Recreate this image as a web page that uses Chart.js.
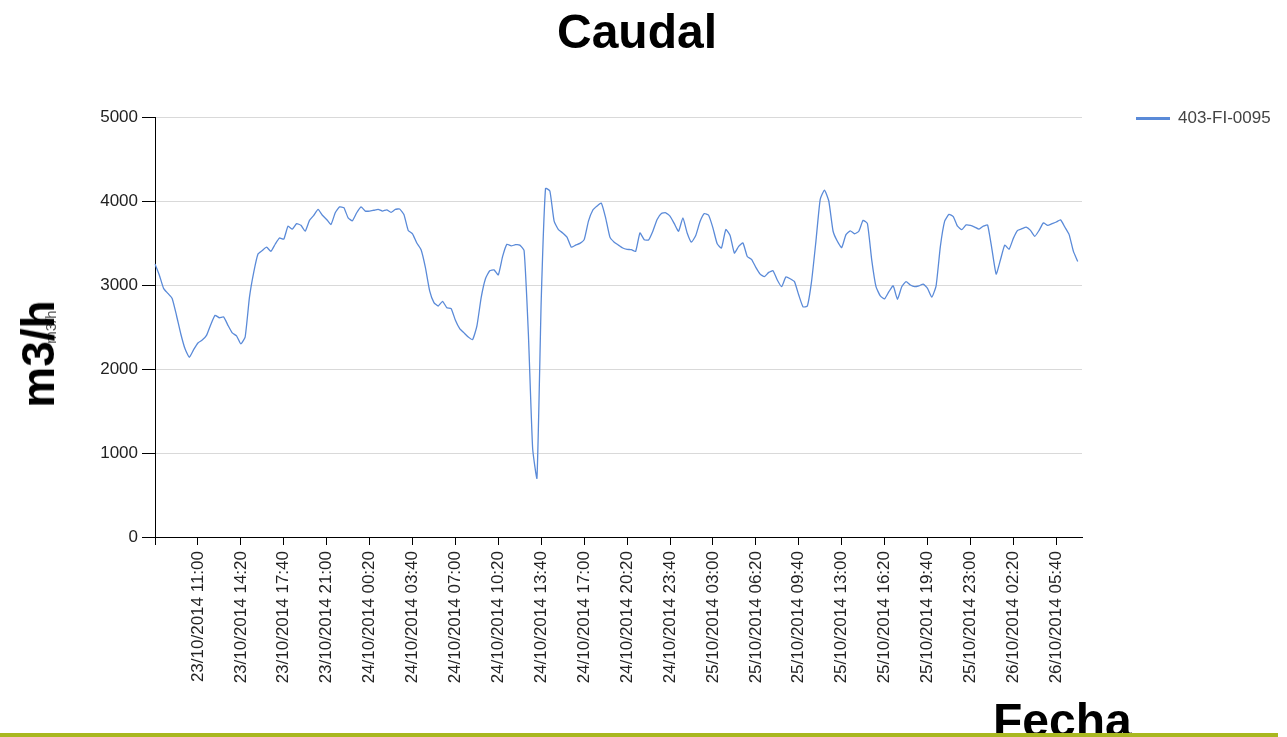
<!DOCTYPE html>
<html>
<head>
<meta charset="utf-8">
<title>Caudal</title>
<script src="https://cdn.jsdelivr.net/npm/chart.js@4.4.1/dist/chart.umd.min.js"></script>
<style>
  html, body { margin: 0; padding: 0; background: #fff; }
  body { width: 1287px; height: 737px; position: relative; overflow: hidden; font-family: "Liberation Sans", Arial, sans-serif; }
  #chartBox { position: absolute; left: 0; top: 0; width: 1287px; height: 737px; }
  .big { position: absolute; font-weight: bold; font-size: 48px; line-height: 1; color: #000; white-space: nowrap; }
  #title { left: 637px; top: 8px; transform: translateX(-50%); }
  #yLabel { left: 38px; top: 354px; font-size: 46px; transform: translate(-50%, -50%) rotate(-90deg); }
  #xLabel { left: 993px; top: 697px; }
  #bar { position: absolute; left: 0; top: 733px; width: 1278px; height: 4px; background: #a9b820; }
  #legend { position: absolute; left: 1136px; top: 108px; font-size: 17px; color: #444; white-space: nowrap; }
  #legend .line { display: inline-block; width: 34px; height: 3px; vertical-align: middle; margin-right: 8px; }
</style>
</head>
<body>
<div id="chartBox"><canvas id="caudalChart"></canvas></div>
<div class="big" id="title">Caudal</div>
<div class="big" id="yLabel">m3/h</div>
<div class="big" id="xLabel">Fecha</div>
<div id="bar"></div>
<div id="legend"></div>

<script>
// Categories: one reading every 20 minutes from 23/10/2014 07:40
const startDay = 23, startMin = 7 * 60 + 40, stepMin = 20, nPoints = 217;
const times = [];
for (let i = 0; i < nPoints; i++) {
  const t = startMin + i * stepMin;
  const day = startDay + Math.floor(t / 1440);
  const m = t % 1440;
  const hh = String(Math.floor(m / 60)).padStart(2, "0");
  const mm = String(m % 60).padStart(2, "0");
  times.push(`${day}/10/2014 ${hh}:${mm}`);
}

// 403-FI-0095 flow (m3/h)
const caudal = [
  3250, 3120, 2960, 2900, 2840, 2640, 2420, 2240, 2140, 2230,
  2310, 2345, 2400, 2530, 2640, 2610, 2620, 2520, 2430, 2395,
  2300, 2380, 2850, 3150, 3370, 3410, 3450, 3400, 3485, 3560,
  3545, 3700, 3665, 3730, 3710, 3640, 3770, 3830, 3900, 3830,
  3780, 3720, 3860, 3930, 3920, 3800, 3765, 3860, 3930, 3880,
  3880, 3890, 3900, 3880, 3895, 3865, 3900, 3905, 3840, 3650,
  3610, 3500, 3420, 3210, 2930, 2790, 2750, 2805, 2730, 2720,
  2580, 2480, 2430, 2380, 2350, 2510, 2850, 3075, 3170, 3180,
  3120, 3340, 3485, 3465, 3480, 3475, 3410, 2420, 1050, 700,
  2830, 4150, 4120, 3760, 3660, 3620, 3570, 3450, 3475, 3495,
  3540, 3760, 3890, 3940, 3975, 3800, 3570, 3510, 3475, 3440,
  3425, 3420, 3400, 3620, 3540, 3535, 3640, 3780, 3850, 3860,
  3820, 3730, 3640, 3800, 3620, 3510, 3590, 3755, 3850, 3830,
  3680, 3490, 3440, 3660, 3590, 3380, 3460, 3500, 3340, 3305,
  3210, 3130, 3100, 3150, 3170, 3060, 2980, 3095, 3075, 3040,
  2880, 2740, 2750, 3050, 3520, 4020, 4130, 4000, 3640, 3520,
  3445, 3600, 3645, 3610, 3640, 3770, 3730, 3300, 2980, 2870,
  2835, 2920, 2990, 2830, 2980, 3040, 3000, 2980, 2990, 3010,
  2960, 2855, 2990, 3460, 3760, 3840, 3815, 3700, 3660, 3715,
  3710, 3690, 3665, 3700, 3715, 3430, 3130, 3300, 3475, 3425,
  3555, 3650, 3670, 3690, 3650, 3580, 3650, 3740, 3710, 3730,
  3750, 3775, 3690, 3600, 3400, 3280
];

const seriesName = "403-FI-0095";
const lineColor = "#5a8ad8";

Chart.defaults.font.family = '"Liberation Sans", Arial, sans-serif';

const chart = new Chart(document.getElementById("caudalChart"), {
  type: "line",
  data: {
    labels: times,
    datasets: [
      {
        label: seriesName,
        data: caudal,
        borderColor: lineColor,
        borderWidth: 1.3,
        pointRadius: 0,
        tension: 0.15,
        fill: false,
      },
    ],
  },
  options: {
    responsive: true,
    maintainAspectRatio: false,
    animation: false,
    layout: {
      padding: { left: 40, right: 205, top: 117, bottom: 50 },
    },
    plugins: {
      legend: { display: false },
      tooltip: { enabled: false },
    },
    scales: {
      x: {
        type: "category",
        grid: { drawOnChartArea: false, tickLength: 8, tickColor: "#000" },
        border: { color: "#000", width: 1 },
        afterBuildTicks: (scale) => {
          // one tick every 3h20
          scale.ticks = scale.ticks.filter((t) => t.value % 10 === 0);
        },
        afterFit: (scale) => {
          scale.height = 150;
        },
        ticks: {
          autoSkip: false,
          minRotation: 90,
          maxRotation: 90,
          padding: 6,
          color: "#222",
          font: { size: 17 },
          callback: function (value) {
            return value === 0 ? "" : this.getLabelForValue(value);
          },
        },
      },
      y: {
        min: 0,
        max: 5000,
        grid: { color: "#d9d9d9", tickColor: "#000", tickLength: 13 },
        border: { color: "#000", width: 1 },
        afterFit: (scale) => {
          scale.width = 115;
        },
        ticks: {
          stepSize: 1000,
          padding: 4,
          color: "#222",
          font: { size: 17 },
          callback: (value) => String(value),
        },
        title: {
          display: true,
          text: "m3/h",
          color: "#555",
          font: { size: 15 },
          padding: { top: 3, bottom: 0 },
        },
      },
    },
  },
});

// HTML legend from the dataset
const legend = document.getElementById("legend");
chart.data.datasets.forEach((ds) => {
  legend.innerHTML += `<span class="line" style="background:${ds.borderColor}"></span>${ds.label}`;
});
</script>
</body>
</html>
